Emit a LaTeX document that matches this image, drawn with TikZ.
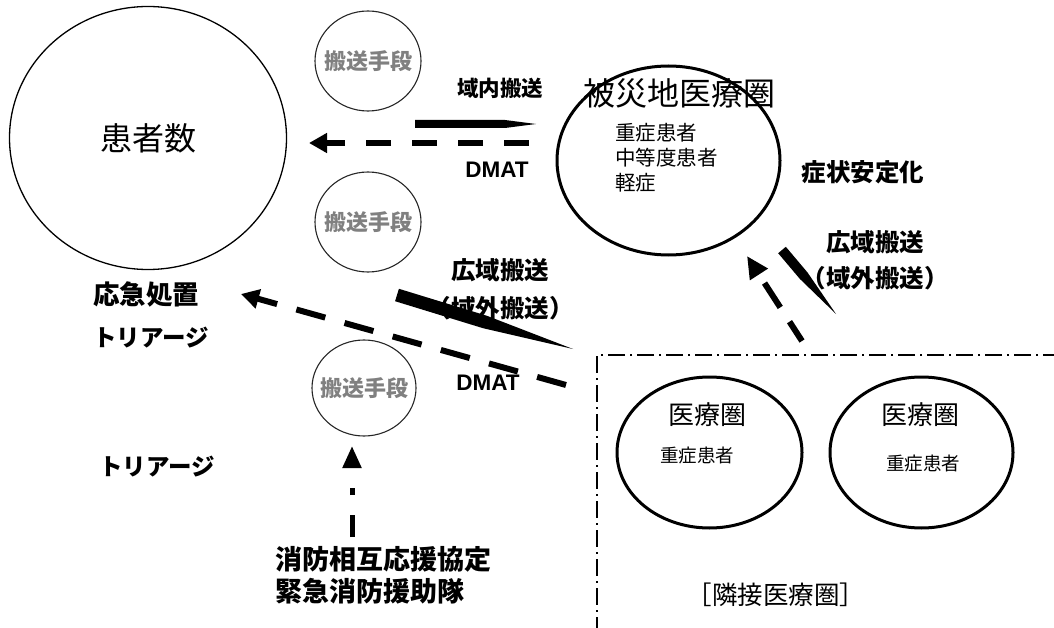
\documentclass[tikz,border=0pt]{standalone}
\usepackage{fontspec}
\setmainfont{Noto Sans CJK JP}
\newfontfamily\arialfont{Liberation Sans}
\usetikzlibrary{shapes.geometric,arrows.meta,calc}
\begin{document}
\begin{tikzpicture}[x=1pt,y=-1pt,
  ell/.style={ellipse, draw, inner sep=0pt},
  bigell/.style={ell, line width=1.3pt},
  smallell/.style={ell, line width=1.1pt, draw=black!85},
  thickell/.style={ell, line width=3pt},
  lbl/.style={inner sep=0pt},
  grayt/.style={lbl, text=black!50, font={\bfseries\fontsize{22}{26}\selectfont}},
  boldt/.style={lbl, font={\bfseries\fontsize{#1}{#1}\selectfont}},
  plaint/.style={lbl, font={\fontsize{#1}{#1}\selectfont}},
  dmat/.style={lbl, font={\arialfont\bfseries\fontsize{22.5}{25}\selectfont}},
  dasharrow/.style={line width=6pt, dash pattern=on 25pt off 21pt,
    -{Triangle[length=18pt,width=19pt]}},
  dashdotbox/.style={line width=1.6pt, dash pattern=on 17pt off 5pt on 2pt off 5pt},
]
\useasboundingbox (0,0) rectangle (1054,628);

% --- circles / ellipses ---
\node[bigell, minimum width=277pt, minimum height=263pt] (patients) at (148,138) {};
\node[plaint=32] at (patients.center) {患者数};

\node[smallell, minimum width=106pt, minimum height=100pt] (t1) at (368,61) {};
\node[grayt] at (t1.center) {搬送手段};
\node[smallell, minimum width=106pt, minimum height=100pt] (t2) at (368,222) {};
\node[grayt] at (t2.center) {搬送手段};
\node[smallell, minimum width=104pt, minimum height=96pt] (t3) at (364,388) {};
\node[grayt] at (t3.center) {搬送手段};

\node[thickell, minimum width=223pt, minimum height=189pt] (disaster) at (668.5,160.5) {};
\node[plaint=32] (dtitle) at (679,93) {被災地医療圏};
\node[lbl, anchor=west, align=left, font={\fontsize{20.5}{25}\selectfont}] (dlist) at (615,158)
  {重症患者\\中等度患者\\軽症};

\node[thickell, minimum width=185pt, minimum height=151pt] (adj1) at (709.5,452.5) {};
\node[plaint=26] at (707,415) {医療圏};
\node[plaint=18.5] at (697,455) {重症患者};
\node[thickell, minimum width=183pt, minimum height=151pt] (adj2) at (921.5,452.5) {};
\node[plaint=26] at (920,415) {医療圏};
\node[plaint=18.5] at (923,463) {重症患者};

\node[plaint=25.5] (adjlabel) at (776,595) {［隣接医療圏］};

% --- adjacent region box ---
\coordinate (boxcorner) at (597,355);
\coordinate (boxright) at (1060,355);
\coordinate (boxbottom) at (597,635);
\draw[dashdotbox] (boxright) -- (boxcorner) -- (boxbottom);

% --- labels ---
\node[boldt=21.5] (naiso) at (500,88) {域内搬送};
\node[dmat] (dmat1) at (497,170) {DMAT};
\node[boldt=24.5] (kouiki1) at (500,270) {広域搬送};
\node[boldt=24.5] (ikigai1) at (500,308) {（域外搬送）};
\node[dmat] (dmat2) at (488,383) {DMAT};
\node[boldt=24.5] (shojo) at (863,172) {症状安定化};
\node[boldt=24.5] (kouiki2) at (875,242) {広域搬送};
\node[boldt=24.5] (ikigai2) at (875,278) {（域外搬送）};
\node[boldt=26.5, anchor=west] (ookyu) at (93,294) {応急処置};
\node[boldt=23.5, anchor=west] (tri1) at (93,338) {トリアージ};
\node[boldt=23.5, anchor=west] (tri2) at (99,467) {トリアージ};
\node[lbl, anchor=west, align=left, font={\bfseries\fontsize{27}{32}\selectfont}] (fire) at (275,575)
  {消防相互応援協定\\緊急消防援助隊};

% --- wedge arrows (transport) ---
\coordinate (w1s) at (415,124);
\coordinate (w1m) at (505,124);
\coordinate (w1t) at (536,124);
\fill ($(w1s)!4pt!90:(w1t)$) -- ($(w1m)!4pt!90:(w1t)$) -- (w1t)
  -- ($(w1m)!4pt!-90:(w1t)$) -- ($(w1s)!4pt!-90:(w1t)$) -- cycle;

\coordinate (w2s) at (397,295);
\coordinate (w2t) at (573,349);
\coordinate (w2m) at ($(w2s)!0.5!(w2t)$);
\fill ($(w2s)!6.5pt!90:(w2t)$) -- ($(w2m)!6.5pt!90:(w2t)$) -- (w2t)
  -- ($(w2m)!6.5pt!-90:(w2t)$) -- ($(w2s)!6.5pt!-90:(w2t)$) -- cycle;

\coordinate (w3s) at (782,250);
\coordinate (w3t) at (836,314);
\coordinate (w3m) at ($(w3s)!0.4!(w3t)$);
\fill ($(w3s)!5pt!90:(w3t)$) -- ($(w3m)!5pt!90:(w3t)$) -- (w3t)
  -- ($(w3m)!5pt!-90:(w3t)$) -- ($(w3s)!5pt!-90:(w3t)$) -- cycle;

% --- dashed arrows (DMAT etc.) ---
\coordinate (a1s) at (529,143);
\coordinate (a1t) at (309,143);
\draw[dasharrow] (a1s) -- (a1t);

\coordinate (a2s) at (566,385);
\coordinate (a2t) at (241,294);
\draw[dasharrow, dash pattern=on 30pt off 20pt] (a2s) -- (a2t);

\coordinate (a3s) at (802,341);
\coordinate (a3t) at (747,256);
\draw[line width=6pt, dash pattern=on 23pt off 17pt on 29pt off 20pt,
  -{Triangle[length=22pt,width=20pt]}] (a3s) -- (a3t);

\coordinate (a4s) at (352,537);
\coordinate (a4t) at (352,446);
\draw[line width=5pt, dash pattern=on 22pt off 20pt on 7pt off 25pt,
  -{Triangle[length=22pt,width=18pt]}] (a4s) -- (a4t);
\end{tikzpicture}
\end{document}
